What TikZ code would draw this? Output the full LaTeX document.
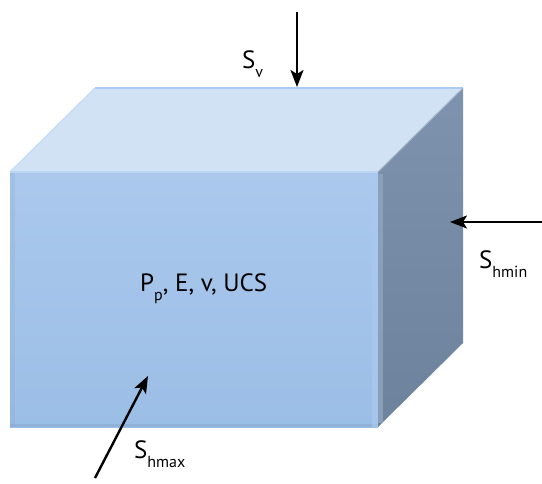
\documentclass[tikz,border=0pt]{standalone}
\usepackage{fontspec}
\setmainfont{PT Sans}
\usetikzlibrary{arrows.meta}
\definecolor{frontTop}{HTML}{ABC8ED}
\definecolor{frontBot}{HTML}{9BBEE6}
\definecolor{topFace}{HTML}{D2E2F5}
\definecolor{topEdge}{HTML}{A9CCF0}
\definecolor{sideTop}{HTML}{7E93AD}
\definecolor{sideBot}{HTML}{6C829D}
\definecolor{bevel}{HTML}{A8CAEE}
\definecolor{bevelB}{HTML}{8FA5C0}
\newcommand\lowsub[1]{\raisebox{-9pt}{\fontsize{16pt}{16pt}\selectfont #1}}
\tikzset{
  force/.style={line width=2.4pt, -{Stealth[length=17pt,width=13pt,inset=4pt]}},
  lbl/.style={inner sep=0pt, anchor=base west, font=\fontsize{25pt}{25pt}\selectfont}
}
\begin{document}
\begin{tikzpicture}[x=1pt,y=-1pt]
\useasboundingbox (0,0) rectangle (542,483);
% cube corners
\coordinate (ftl) at (10,172);
\coordinate (ftr) at (378,172);
\coordinate (fbr) at (378,427);
\coordinate (fbl) at (10,427);
\coordinate (btl) at (95,88);
\coordinate (btr) at (463,88);
\coordinate (bbr) at (463,343);
% front face
\shade[top color=frontTop, bottom color=frontBot] (ftl) rectangle (fbr);
\fill[frontBot!85!black, opacity=0.2] (10,172) rectangle (15,427);
\fill[frontBot!80!black, opacity=0.3] (10,424) rectangle (378,427);
% top face
\fill[topFace] (ftl) -- (btl) -- (btr) -- (ftr) -- cycle;
\draw[topEdge, line width=1.5pt] (btl) -- (btr);
\draw[topEdge!70!white, line width=1.2pt] (ftl) -- (btl);
\draw[topEdge!80!white, line width=1.5pt] (ftl) -- (ftr);
% right face
\shade[top color=sideTop, bottom color=sideBot] (ftr) -- (btr) -- (bbr) -- (fbr) -- cycle;
\draw[sideTop!70!white, line width=1pt] (ftr) -- (btr);
% bevel along front right edge
\fill[bevel, opacity=0.7] (372,173) rectangle (378,427);
\fill[bevelB, opacity=0.8] (378,174) rectangle (383,423);
% labels
\node[lbl] (pp) at (140,291) {P\lowsub{p}, E, v, UCS};
\node[lbl] (sv) at (242,68) {S\lowsub{v}};
\node[lbl] (shmin) at (479,268) {S\lowsub{hmin}};
\node[lbl] (shmax) at (134,458) {S\lowsub{hmax}};
% forces
\coordinate (sv0) at (297,12);
\coordinate (sv1) at (297,87);
\coordinate (sn0) at (542,222);
\coordinate (sn1) at (450,222);
\coordinate (sx0) at (95,478);
\coordinate (sx1) at (148,376);
\draw[force] (sv0) -- (sv1);
\draw[force] (sn0) -- (sn1);
\draw[force] (sx0) -- (sx1);
\end{tikzpicture}
\end{document}
